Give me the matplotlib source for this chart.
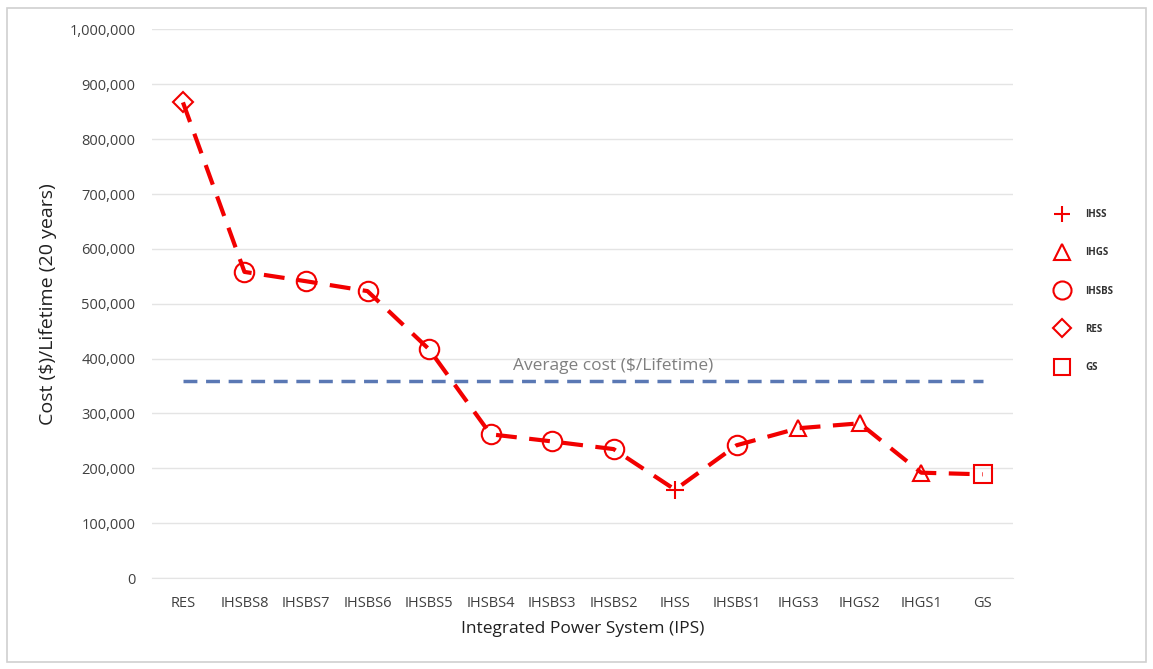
import matplotlib
matplotlib.use("Agg")
import matplotlib.pyplot as plt
from matplotlib.lines import Line2D
from matplotlib.patches import Rectangle
from matplotlib.ticker import FuncFormatter

plt.rcParams['font.family'] = ['Open Sans', 'DejaVu Sans']

systems = ["RES", "IHSBS8", "IHSBS7", "IHSBS6", "IHSBS5", "IHSBS4", "IHSBS3",
           "IHSBS2", "IHSS", "IHSBS1", "IHGS3", "IHGS2", "IHGS1", "GS"]
costs = [867000, 558000, 541000, 523000, 417000, 262000, 249000,
         235000, 161000, 242000, 273000, 282000, 192000, 189000]
groups = ["RES", "IHSBS", "IHSBS", "IHSBS", "IHSBS", "IHSBS", "IHSBS",
          "IHSBS", "IHSS", "IHSBS", "IHGS", "IHGS", "IHGS", "GS"]
average_cost = 360000

legend_order = ["IHSS", "IHGS", "IHSBS", "RES", "GS"]
group_markers = {"IHSS": "+", "IHGS": "^", "IHSBS": "o", "RES": "D", "GS": "s"}
group_sizes = {"IHSS": 13, "IHGS": 12, "IHSBS": 14, "RES": 10, "GS": 13}

red = "#f20000"
avg_color = "#5a78b4"
text_color = "#404040"

fig = plt.figure(figsize=(11.53, 6.69), dpi=100)
fig.patches.append(Rectangle((0.006, 0.01), 0.988, 0.978, transform=fig.transFigure,
                             fill=False, edgecolor="#d0d0d0", linewidth=1.2))
ax = fig.add_axes([0.132, 0.136, 0.747, 0.82])

x = list(range(len(systems)))
ax.plot(x, costs, color=red, linestyle=(0, (5, 3)), linewidth=3, zorder=3)
for xi, yi, g in zip(x, costs, groups):
    ax.plot(xi, yi, marker=group_markers[g], markersize=group_sizes[g],
            markerfacecolor="none", markeredgecolor=red, markeredgewidth=1.5,
            linestyle="none", zorder=4)

ax.plot([0, len(systems) - 1], [average_cost, average_cost], color=avg_color,
        linestyle=(0, (4, 2.5)), linewidth=2.5, zorder=2)
ax.text(7.0, average_cost + 12000, "Average cost ($/Lifetime)", color="#7f7f7f",
        fontsize=12.5, va="bottom", ha="center")

ax.set_xlim(-0.5, len(systems) - 0.5)
ax.set_ylim(0, 1000000)
ax.set_yticks(range(0, 1000001, 100000))
ax.yaxis.set_major_formatter(FuncFormatter(lambda v, p: f"{int(v):,}"))
ax.set_xticks(x)
ax.set_xticklabels(systems)
ax.grid(axis="y", color="#e4e4e4", linewidth=1)
ax.set_axisbelow(True)
for s in ["top", "right", "left"]:
    ax.spines[s].set_visible(False)
ax.spines["bottom"].set_color("#e4e4e4")
ax.tick_params(axis="both", length=0, labelsize=10.5, colors=text_color, pad=12)
ax.tick_params(axis="x", pad=13)

ax.set_ylabel("Cost ($)/Lifetime (20 years)", fontsize=14, color="#202020", labelpad=9)
ax.set_xlabel("Integrated Power System (IPS)", fontsize=12.5, color="#202020", labelpad=7)

handles = [Line2D([], [], marker=group_markers[g], markersize=group_sizes[g] - 1,
                  markerfacecolor="none", markeredgecolor=red, markeredgewidth=1.5,
                  linestyle="none") for g in legend_order]
leg = fig.legend(handles, legend_order, loc="center left", bbox_to_anchor=(0.905, 0.565),
                 frameon=False, labelspacing=2.8, handletextpad=1.4,
                 prop={"size": 7, "weight": "bold"})
for t in leg.get_texts():
    t.set_color("#303030")

fig.savefig("out.png", dpi=100, facecolor="white")
